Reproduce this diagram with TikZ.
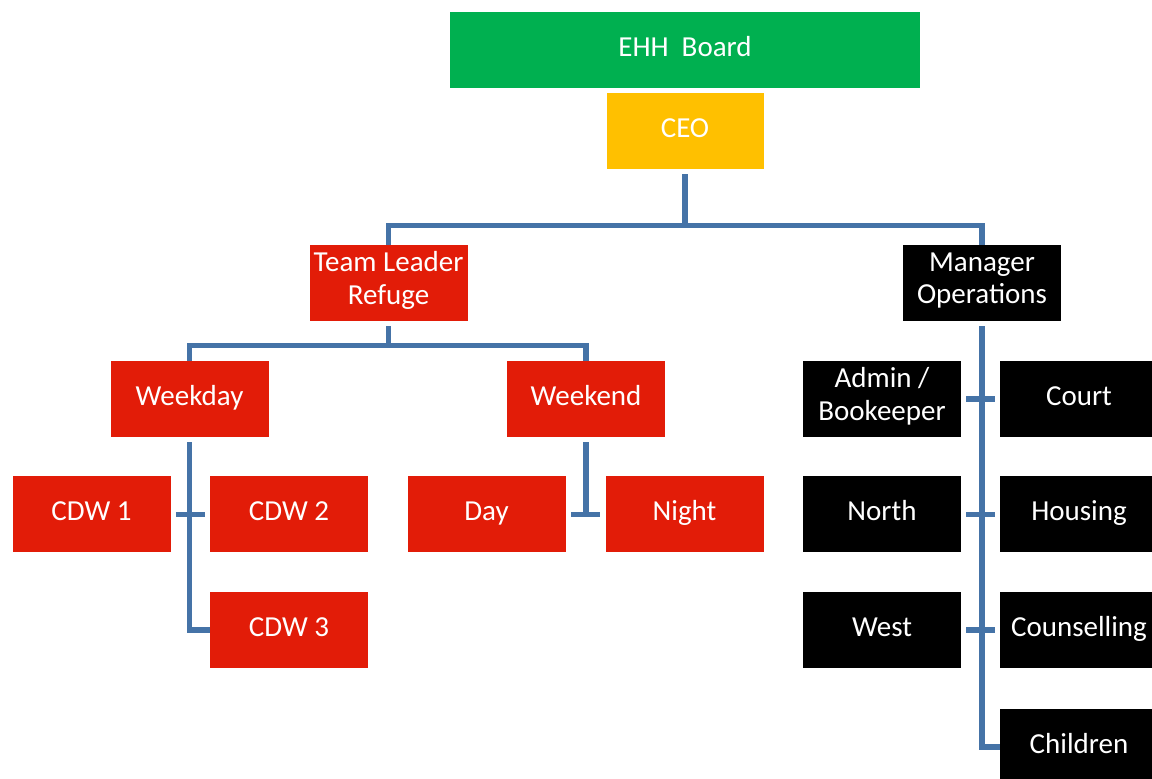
\documentclass[tikz,border=0pt]{standalone}
\usepackage{fontspec}
\setmainfont{Carlito}
\definecolor{boardgreen}{HTML}{00B050}
\definecolor{ceoyellow}{HTML}{FFC000}
\definecolor{refugered}{HTML}{E21C08}
\definecolor{linkblue}{HTML}{4573A7}
\begin{document}
\begin{tikzpicture}[
        role/.style={rectangle, minimum width=3.16cm, minimum height=1.52cm, inner sep=0pt, text=white, align=center, font=\fontsize{16.5}{18.5}\selectfont, execute at begin node=\strut},
        refuge/.style={role, fill=refugered},
        ops/.style={role, fill=black},
        link/.style={draw=linkblue, line width=0.11cm, shorten <=0.1cm},
        tick/.style={draw=linkblue, line width=0.11cm, shorten <=0.1cm, shorten >=0.1cm}
    ]
    \clip (0,0) rectangle (23.04,15.56);

    % Top
    \node (board) at (13.70, 14.56) [role, fill=boardgreen, minimum width=9.4cm] {EHH\ \ Board};
    \node (ceo) at (13.70, 12.94) [role, fill=ceoyellow, minimum width=3.14cm] {CEO};

    % Second level
    \node (tl) at (7.77, 9.90) [refuge] {Team Leader\\Refuge};
    \node (mgr) at (19.64, 9.90) [ops] {Manager\\Operations};
    \draw[link] (ceo.south) -- ++(0,-1.12) -| (tl.north);
    \draw[link] (ceo.south) -- ++(0,-1.12) -| (mgr.north);

    % Refuge
    \node (weekday) at (3.79, 7.58) [refuge] {Weekday};
    \node (weekend) at (11.72, 7.58) [refuge] {Weekend};
    \draw[link] (tl.south) -- ++(0,-0.48) -| (weekday.north);
    \draw[link] (tl.south) -- ++(0,-0.48) -| (weekend.north);

    \node (cdw1) at (1.83, 5.27) [refuge] {CDW 1};
    \node (cdw2) at (5.78, 5.27) [refuge] {CDW 2};
    \node (cdw3) at (5.78, 2.96) [refuge] {CDW 3};
    \draw[link] (weekday.south) |- (cdw3.west);
    \draw[tick] (cdw1.east) -- (cdw2.west);

    \node (day) at (9.73, 5.27) [refuge] {Day};
    \node (night) at (13.69, 5.27) [refuge] {Night};
    \draw[link] (weekend.south) -- (weekend.south |- day.east);
    \draw[tick] (day.east) -- (night.west);

    % Operations
    \node (admin) at (17.64, 7.58) [ops] {Admin /\\Bookeeper};
    \node (court) at (21.58, 7.58) [ops] {Court};
    \node (north) at (17.64, 5.27) [ops] {North};
    \node (housing) at (21.58, 5.27) [ops] {Housing};
    \node (west) at (17.64, 2.96) [ops] {West};
    \node (counselling) at (21.58, 2.96) [ops] {Counselling};
    \node (children) at (21.58, 0.62) [ops] {Children};
    \draw[link] (mgr.south) |- (children.west);
    \draw[tick] (admin.east) -- (court.west);
    \draw[tick] (north.east) -- (housing.west);
    \draw[tick] (west.east) -- (counselling.west);

\end{tikzpicture}
\end{document}
